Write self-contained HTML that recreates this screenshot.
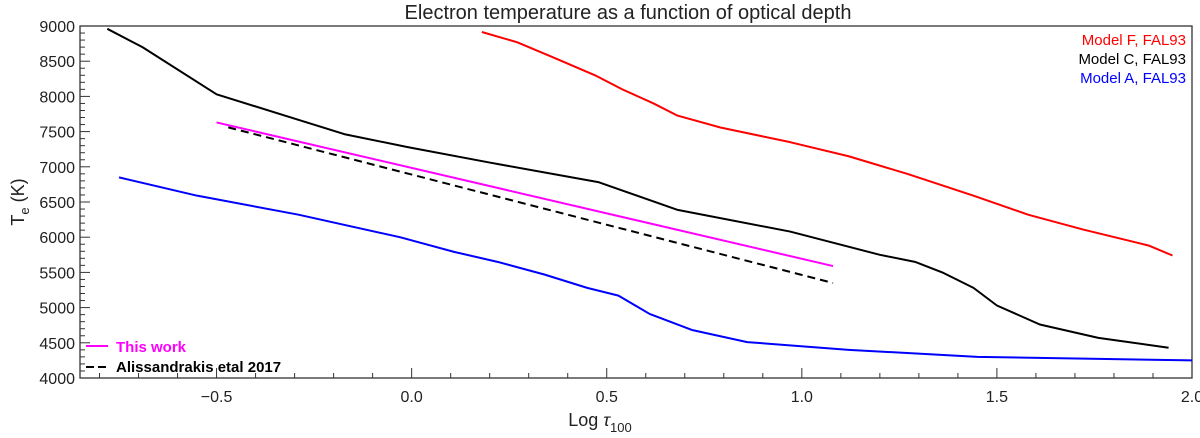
<!DOCTYPE html>
<html><head><meta charset="utf-8"><style>
html,body{margin:0;padding:0;background:#fff;}
svg{display:block;font-family:"Liberation Sans","DejaVu Sans",sans-serif;}
</style></head><body>
<svg id="chart" width="1200" height="438" viewBox="0 0 1200 438">
<text x="628" y="19" text-anchor="middle" font-size="20" fill="#222">Electron temperature as a function of optical depth</text>
<rect x="80" y="26" width="1112" height="352" fill="none" stroke="#333" stroke-width="1.3"/>
<g id="axes"></g>
<g id="series"></g>
<text x="1186" y="45" text-anchor="end" font-size="15" fill="#ff0000">Model F, FAL93</text>
<text x="1186" y="64" text-anchor="end" font-size="15" fill="#000">Model C, FAL93</text>
<text x="1186" y="83" text-anchor="end" font-size="15" fill="#0000ff">Model A, FAL93</text>
<line x1="86" y1="346" x2="108" y2="346" stroke="#ff00ff" stroke-width="2"/>
<text x="116" y="352" font-size="15" font-weight="bold" fill="#ff00ff">This work</text>
<line x1="86" y1="367" x2="108" y2="367" stroke="#000" stroke-width="2" stroke-dasharray="8,4"/>
<text x="116" y="372" font-size="15" font-weight="bold" fill="#000">Alissandrakis etal 2017</text>
<text x="600" y="426" text-anchor="middle" font-size="18" fill="#222">Log <tspan font-style="italic">τ</tspan><tspan font-size="13" dy="6">100</tspan></text>
<text transform="translate(24,202) rotate(-90)" text-anchor="middle" font-size="18" fill="#222">T<tspan font-size="13" dy="5">e</tspan><tspan dy="-5"> (K)</tspan></text>
</svg>
<script>
const xTicks=[-0.5,0.0,0.5,1.0,1.5,2.0];
const xTickLabels=["\u22120.5","0.0","0.5","1.0","1.5","2.0"];
const yTicks=[4000,4500,5000,5500,6000,6500,7000,7500,8000,8500,9000];
const modelFx=[0.18,0.27,0.36,0.47,0.54,0.62,0.68,0.79,0.97,1.12,1.27,1.44,1.58,1.72,1.89,1.95];
const modelFy=[8915,8770,8560,8300,8100,7900,7730,7560,7350,7150,6900,6590,6320,6110,5880,5740];
const modelCx=[-0.78,-0.69,-0.5,-0.28,-0.17,-0.01,0.2,0.48,0.68,0.97,1.2,1.29,1.36,1.44,1.5,1.61,1.76,1.94];
const modelCy=[8960,8700,8030,7650,7460,7280,7060,6780,6390,6080,5750,5650,5500,5280,5030,4760,4570,4430];
const modelAx=[-0.75,-0.55,-0.29,-0.03,0.11,0.22,0.34,0.45,0.53,0.61,0.72,0.86,1.12,1.45,2.0];
const modelAy=[6850,6590,6320,6000,5790,5650,5470,5280,5170,4910,4680,4510,4400,4300,4250];
const thisWorkX=[-0.5,1.08];
const thisWorkY=[7630,5590];
const alissX=[-0.47,1.08];
const alissY=[7560,5350];
const X0=80,X1=1192,Y0=378,Y1=26,XMIN=-0.85,XMAX=2.0,YMIN=4000,YMAX=9000;
const xs=v=>X0+(v-XMIN)/(XMAX-XMIN)*(X1-X0);
const ys=v=>Y0-(v-YMIN)/(YMAX-YMIN)*(Y0-Y1);
const NS="http://www.w3.org/2000/svg";
const axes=document.getElementById('axes'),ser=document.getElementById('series');
function mk(tag,attrs,parent){const e=document.createElementNS(NS,tag);for(const k in attrs)e.setAttribute(k,attrs[k]);parent.appendChild(e);return e;}
for(let i=-8;i<=20;i++){const v=i/10;if(v<XMIN)continue;const x=xs(v);const major=Math.abs(v*2-Math.round(v*2))<1e-6;
const t=mk('line',{x1:x,x2:x,y1:Y0,y2:Y0-(major?10:5),stroke:'#333','stroke-width':1},axes);

}
xTicks.forEach((v,i)=>{const t=mk('text',{x:xs(v),y:Y0+24,'text-anchor':'middle','font-size':16,fill:'#222'},axes);t.textContent=xTickLabels[i];

});
for(let v=YMIN;v<=YMAX;v+=100){const y=ys(v);const major=v%500===0;
const t=mk('line',{x1:X0,x2:X0+(major?10:5),y1:y,y2:y,stroke:'#333','stroke-width':1},axes);

}
yTicks.forEach(v=>{const t=mk('text',{x:X0-5,y:ys(v)+6,'text-anchor':'end','font-size':16,fill:'#222'},axes);t.textContent=v;

});
function line(xa,ya,color,dash,name){const p=mk('polyline',{points:xa.map((x,i)=>xs(x)+','+ys(ya[i])).join(' '),fill:'none',stroke:color,'stroke-width':2,'stroke-linejoin':'round'},ser);
if(dash)p.setAttribute('stroke-dasharray',dash);

}
line(modelFx,modelFy,'#ff0000',null,'model-f-line');
line(modelCx,modelCy,'#000000',null,'model-c-line');
line(modelAx,modelAy,'#0000ff',null,'model-a-line');
line(thisWorkX,thisWorkY,'#ff00ff',null,'this-work-line');
line(alissX,alissY,'#000000','8,5','alissandrakis-line');
</script>
</body></html>
